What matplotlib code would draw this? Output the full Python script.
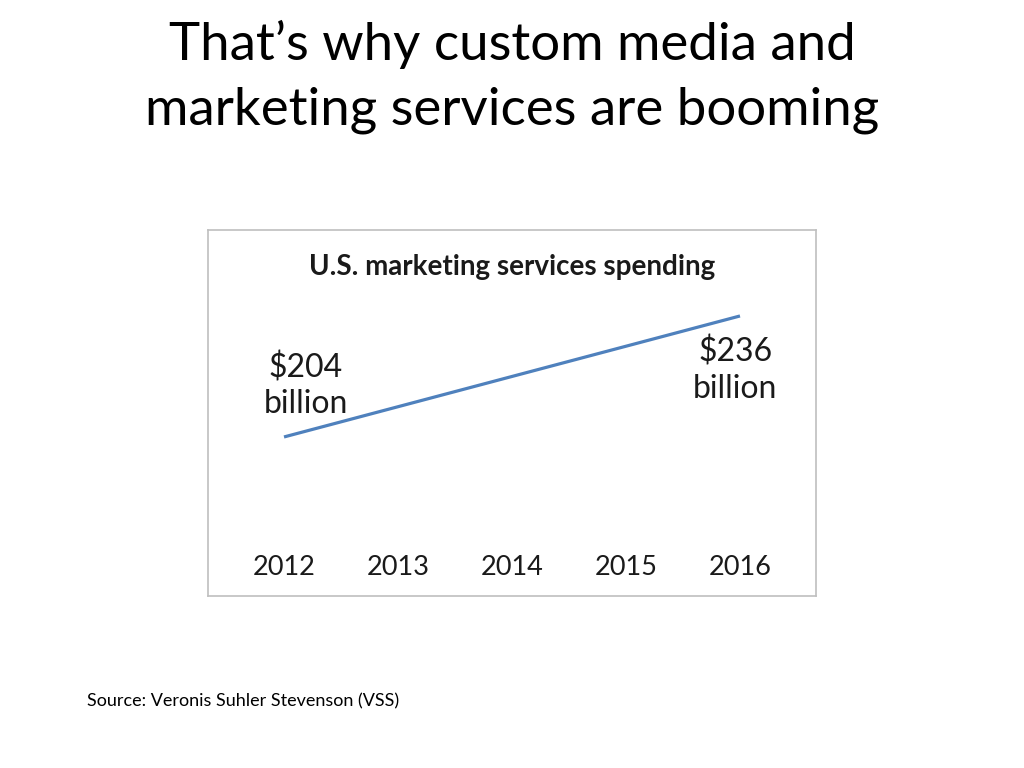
import matplotlib.pyplot as plt
import matplotlib.transforms as mtransforms

years = [2012, 2013, 2014, 2015, 2016]
spending = [204, 212, 220, 228, 236]  # US$ billion
year_labels = ['2012', '2013', '2014', '2015', '2016']

plt.rcParams['font.family'] = ['Lato', 'DejaVu Sans']

fig = plt.figure(figsize=(10.24, 7.68), dpi=100)
fig.patch.set_facecolor('white')

# slide title
fig.text(0.5, 0.942, 'That\u2019s why custom media and', ha='center', va='center',
         fontsize=38, color='black')
fig.text(0.5, 0.856, 'marketing services are booming', ha='center', va='center',
         fontsize=38, color='black')

# chart box
ax = fig.add_axes([0.2031, 0.224, 0.5938, 0.4766])
ax.plot(years, spending, color='#4F81BD', linewidth=2.3, solid_capstyle='butt')
ax.set_xlim(2011.333, 2016.667)
ax.set_ylim(161.95, 258.75)
ax.set_xticks([])
ax.set_yticks([])
for s in ax.spines.values():
    s.set_color('#BFBFBF')
    s.set_linewidth(1.2)

ax.text(0.5, 0.9, 'U.S. marketing services spending', transform=ax.transAxes,
        ha='center', va='center', fontsize=20, fontweight='bold', color='#1a1a1a')

trans = mtransforms.blended_transform_factory(ax.transData, ax.transAxes)
for yr, lab in zip(years, year_labels):
    ax.text(yr, 0.0765, lab, transform=trans, ha='center', va='center',
            fontsize=19.5, color='#1a1a1a')

ax.text(2012.19, 217.5, '$204\nbillion', ha='center', va='center',
        fontsize=23, color='#1a1a1a', linespacing=1.25)
ax.text(2015.96, 221.7, '$236\nbillion', ha='center', va='center',
        fontsize=23, color='#1a1a1a', linespacing=1.25)

fig.text(0.085, 0.087, 'Source: Veronis Suhler Stevenson (VSS)', ha='left', va='center',
         fontsize=13, color='black')

fig.savefig('out.png', dpi=100)
